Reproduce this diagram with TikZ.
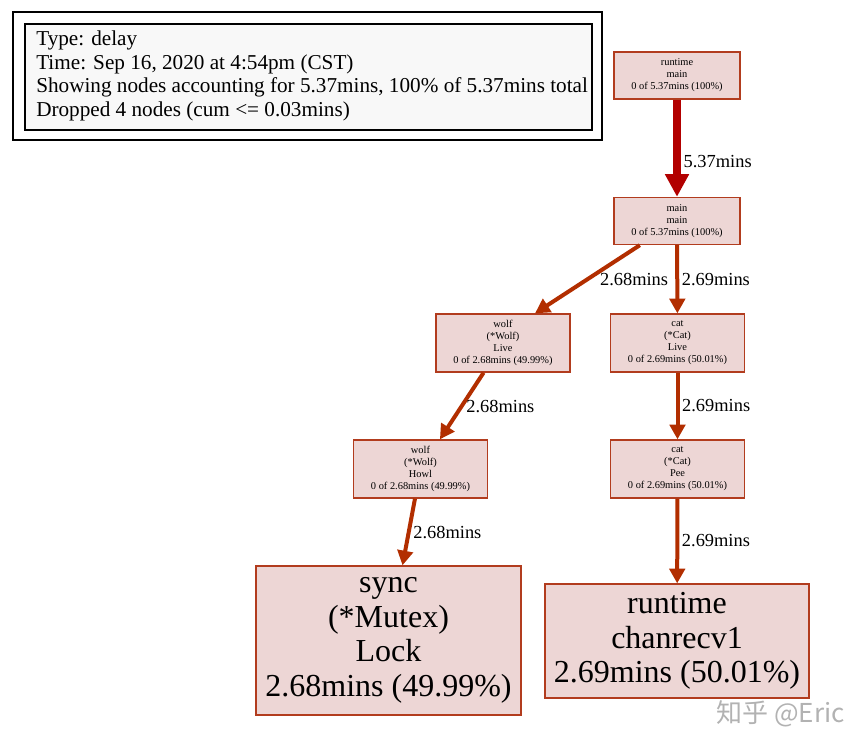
\documentclass[tikz,border=0pt]{standalone}
\usepackage{fontspec}
\setmainfont{Liberation Serif}
\newfontfamily\cjkfont{Noto Sans CJK SC}
\usetikzlibrary{arrows.meta}

\definecolor{nodefill}{HTML}{EDD6D5}
\definecolor{nodeline}{HTML}{B23C1E}
\definecolor{edgered}{HTML}{B22E00}
\definecolor{topred}{HTML}{B20000}
\definecolor{legendfill}{HTML}{F8F8F8}

\begin{document}
\begin{tikzpicture}[x=0.75pt,y=-0.75pt,
    fn/.style={draw=nodeline,fill=nodefill,line width=1pt,align=center,inner sep=0pt},
    smallfn/.style={fn,font=\fontsize{7.8}{9}\selectfont},
    bigfn/.style={fn,font=\fontsize{24}{26}\selectfont},
    edge/.style={draw=edgered,line width=3pt,-{Triangle[length=11pt,width=11.5pt]}},
    bigedge/.style={draw=topred,line width=6pt,-{Triangle[length=17pt,width=17pt]}},
    elabel/.style={anchor=west,inner sep=2pt,font=\fontsize{13.8}{15}\selectfont}]
    \useasboundingbox (0,0) rectangle (866,747);
    % legend
    \node [draw,line width=0.8pt,minimum width=441.75pt,minimum height=96pt] (legendFrame) at (307.5,76) {};
    \node [draw,line width=0.8pt,fill=legendfill,minimum width=425.25pt,minimum height=79.5pt] (legendBox) at (308.5,77) {};
    \node [anchor=west,align=left,inner sep=0pt,font=\fontsize{15.9}{17.8}\selectfont] (legendText) at (36,76) {Type: delay\\Time: Sep 16, 2020 at 4:54pm (CST)\\Showing nodes accounting for 5.37mins, 100\% of 5.37mins total\\Dropped 4 nodes (cum <= 0.03mins)};
    % call graph
    \node [smallfn,minimum width=94.5pt,minimum height=35.25pt] (runtimeMain) at (677,75.5) {runtime\\main\\0 of 5.37mins (100\%)};
    \node [smallfn,minimum width=94.5pt,minimum height=35.25pt] (mainMain) at (677,221) {main\\main\\0 of 5.37mins (100\%)};
    \node [smallfn,minimum width=100.5pt,minimum height=43.5pt] (wolfLive) at (503,343) {wolf\\(*Wolf)\\Live\\0 of 2.68mins (49.99\%)};
    \node [smallfn,minimum width=100.5pt,minimum height=43.5pt] (catLive) at (677.5,343) {cat\\(*Cat)\\Live\\0 of 2.69mins (50.01\%)};
    \node [smallfn,minimum width=100.5pt,minimum height=43.5pt] (wolfHowl) at (420.5,469) {wolf\\(*Wolf)\\Howl\\0 of 2.68mins (49.99\%)};
    \node [smallfn,minimum width=100.5pt,minimum height=43.5pt] (catPee) at (677.5,469) {cat\\(*Cat)\\Pee\\0 of 2.69mins (50.01\%)};
    \node [bigfn,minimum width=198.75pt,minimum height=111.75pt] (syncLock) at (388.5,640.5) {sync\\(*Mutex)\\Lock\\2.68mins (49.99\%)};
    \node [bigfn,minimum width=198pt,minimum height=85.5pt] (chanRecv) at (677,641) {runtime\\chanrecv1\\2.69mins (50.01\%)};
    % edges
    \draw [bigedge] (runtimeMain) -- (mainMain) node [elabel,pos=0.64] {5.37mins};
    \draw [edge] (mainMain) -- ([xshift=24pt]wolfLive.north) node [elabel,midway,xshift=6pt] {2.68mins};
    \draw [edge] (mainMain) -- (catLive) node [elabel,midway] {2.69mins};
    \draw [edge] (wolfLive) -- (wolfHowl) node [elabel,midway] {2.68mins};
    \draw [edge] (catLive) -- (catPee) node [elabel,midway] {2.69mins};
    \draw [edge] (wolfHowl) -- (syncLock) node [elabel,midway] {2.68mins};
    \draw [edge] (catPee) -- (chanRecv) node [elabel,midway] {2.69mins};
    % watermark
    \node [anchor=east,inner sep=0pt,text=black!30,font=\cjkfont\fontsize{19.5}{19.5}\selectfont] (watermark) at (845,714) {知乎 @Eric};
\end{tikzpicture}
\end{document}
